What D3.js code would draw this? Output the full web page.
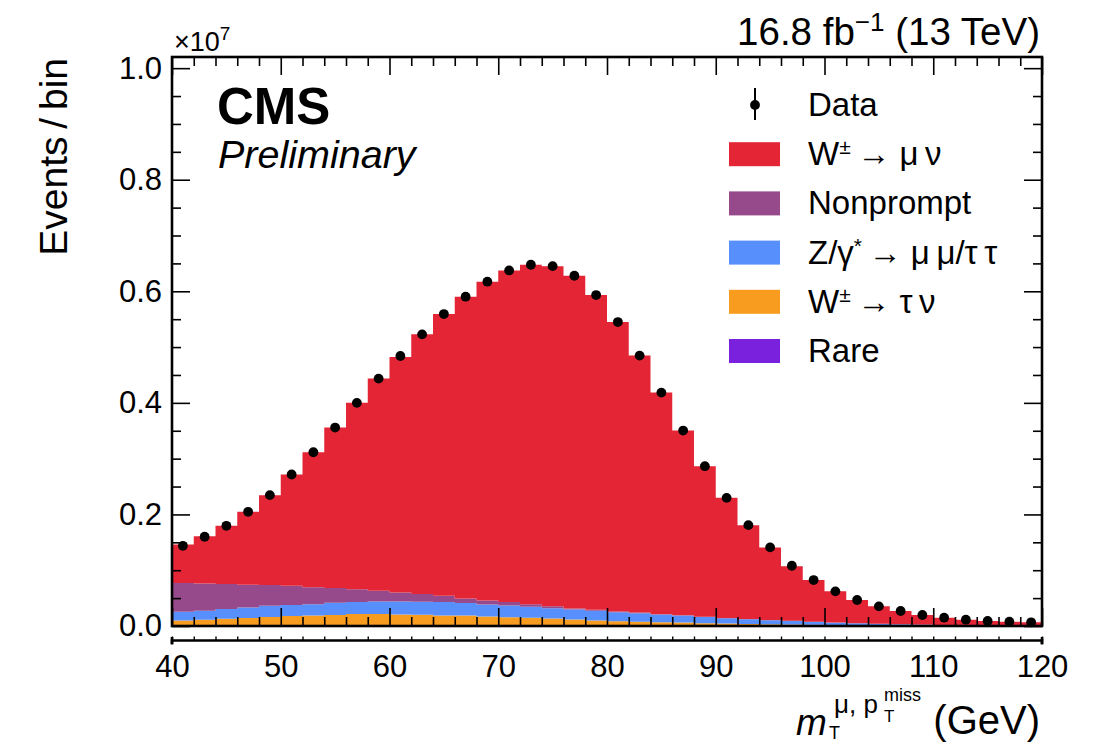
<!DOCTYPE html>
<html>
<head>
<meta charset="utf-8">
<script src="https://cdn.jsdelivr.net/npm/d3@7"></script>
<style>
  body { margin: 0; background: #fff; }
  text { font-family: "Liberation Sans", Arial, Helvetica, sans-serif; fill: #000; }
</style>
</head>
<body>
<svg id="chart" width="1096" height="744"></svg>
<script>
// Transverse mass bins (GeV), 2 GeV wide, centres
const binCenters = [41,43,45,47,49,51,53,55,57,59,61,63,65,67,69,71,73,75,77,79,
                    81,83,85,87,89,91,93,95,97,99,101,103,105,107,109,111,113,115,117,119];
const binWidth = 2;

// Yields per bin, in units of 10^7 events
const dataYield = [0.1438,0.1600,0.1796,0.2047,0.2346,0.2716,0.3115,0.3557,0.4000,0.4435,
                   0.4840,0.5228,0.5592,0.5903,0.6172,0.6374,0.6476,0.6451,0.6279,0.5932,
                   0.5449,0.4847,0.4184,0.3503,0.2865,0.2297,0.1808,0.1409,0.1080,0.0824,
                   0.0621,0.0466,0.0352,0.0269,0.0197,0.0149,0.0113,0.0090,0.0077,0.0066];

const wMuNu     = [0.0691,0.0849,0.1045,0.1309,0.1613,0.1995,0.2419,0.2878,0.3339,0.3804,
                   0.4220,0.4656,0.5051,0.5408,0.5714,0.5946,0.6085,0.6095,0.5966,0.5642,
                   0.5190,0.4607,0.3973,0.3312,0.2697,0.2154,0.1683,0.1303,0.0978,0.0749,
                   0.0560,0.0416,0.0312,0.0237,0.0172,0.0130,0.0098,0.0078,0.0068,0.0058];
const nonprompt = [0.0514,0.0489,0.0448,0.0406,0.0371,0.0346,0.0304,0.0263,0.0233,0.0192,
                   0.0161,0.0138,0.0113,0.0081,0.0072,0.0061,0.0048,0.0036,0.0018,0.0018,
                   0.0011,0.0010,0.0007,0.0005,0.0005,0.0003,0.0003,0.0002,0.0002,0.0002,
                   0.0001,0.0001,0.0001,0.0001,0.0001,0.0000,0.0000,0.0000,0.0000,0.0000];
const zGamma    = [0.0156,0.0161,0.0174,0.0190,0.0202,0.0197,0.0204,0.0220,0.0215,0.0226,
                   0.0233,0.0233,0.0240,0.0227,0.0215,0.0208,0.0197,0.0186,0.0179,0.0174,
                   0.0161,0.0156,0.0136,0.0125,0.0113,0.0097,0.0084,0.0072,0.0064,0.0052,
                   0.0043,0.0035,0.0028,0.0022,0.0017,0.0013,0.0010,0.0008,0.0006,0.0005];
const wTauNu    = [0.0095,0.0107,0.0125,0.0138,0.0156,0.0174,0.0184,0.0192,0.0209,0.0209,
                   0.0202,0.0197,0.0184,0.0183,0.0167,0.0156,0.0143,0.0131,0.0113,0.0095,
                   0.0084,0.0072,0.0066,0.0059,0.0048,0.0041,0.0036,0.0030,0.0025,0.0020,
                   0.0016,0.0013,0.0010,0.0008,0.0006,0.0005,0.0004,0.0003,0.0002,0.0002];
const rare      = [0.0004,0.0004,0.0004,0.0004,0.0004,0.0004,0.0004,0.0004,0.0004,0.0004,
                   0.0004,0.0004,0.0004,0.0004,0.0004,0.0003,0.0003,0.0003,0.0003,0.0003,
                   0.0003,0.0002,0.0002,0.0002,0.0002,0.0002,0.0002,0.0002,0.0001,0.0001,
                   0.0001,0.0001,0.0001,0.0001,0.0001,0.0001,0.0001,0.0001,0.0001,0.0001];

// Stack order, bottom to top
const processKeys   = ["rare","wTauNu","zGamma","nonprompt","wMuNu"];
const processSeries = { rare, wTauNu, zGamma, nonprompt, wMuNu };
const processColors = { wMuNu:"#e42536", nonprompt:"#964a8b", zGamma:"#5790fc", wTauNu:"#f89c20", rare:"#7a21dd" };

const xTickLabels = ["40","50","60","70","80","90","100","110","120"];
const yTickLabels = ["0.0","0.2","0.4","0.6","0.8","1.0"];

const legendEntries = [
  { key: "data",      parts: [["Data"]] },
  { key: "wMuNu",     parts: [["W"],["\u00b1","sup"],["\u2009\u2192 \u03bc\u2009\u03bd"]] },
  { key: "nonprompt", parts: [["Nonprompt"]] },
  { key: "zGamma",    parts: [["Z/\u03b3"],["*","sup"],["\u2009\u2192 \u03bc\u2009\u03bc/\u03c4\u2009\u03c4"]] },
  { key: "wTauNu",    parts: [["W"],["\u00b1","sup"],["\u2009\u2192 \u03c4\u2009\u03bd"]] },
  { key: "rare",      parts: [["Rare"]] }
];

const svg = d3.select("#chart");
const plot = { left: 172, right: 1042, top: 57, bottom: 626 };

const x = d3.scaleLinear().domain([40, 120]).range([plot.left, plot.right]);
const y = d3.scaleLinear().domain([0, 1.02]).range([plot.bottom, plot.top]);

// Stacked step histograms
const rows = binCenters.map((c, i) => {
  const r = { lo: c - binWidth / 2, hi: c + binWidth / 2 };
  processKeys.forEach(k => r[k] = processSeries[k][i]);
  return r;
});
const stacked = d3.stack().keys(processKeys)(rows);

const gHist = svg.append("g");
stacked.forEach(layer => {
  const pts = layer.map(d => ({ x: d.data.lo, y0: d[0], y1: d[1] }));
  const last = layer[layer.length - 1];
  pts.push({ x: last.data.hi, y0: last[0], y1: last[1] });
  const area = d3.area()
    .x(d => x(d.x)).y0(d => y(d.y0)).y1(d => y(d.y1))
    .curve(d3.curveStepAfter);
  gHist.append("path")
    .attr("d", area(pts))
    .attr("fill", processColors[layer.key]);
});

// Data points with statistical error bars
const gData = svg.append("g");
binCenters.forEach((c, i) => {
  const v = dataYield[i];
  const err = Math.sqrt(v * 1e7) / 1e7;
  gData.append("line")
    .attr("x1", x(c)).attr("x2", x(c))
    .attr("y1", y(v - err)).attr("y2", y(v + err))
    .attr("stroke", "#000").attr("stroke-width", 2);
  gData.append("circle")
    .attr("cx", x(c)).attr("cy", y(v)).attr("r", 4.9).attr("fill", "#000");
});

// Inward-pointing ticks on all four sides of the frame
const majorX = xTickLabels.map(Number);
const minorX = binCenters.map(c => c - 1).concat([120]).filter(v => !majorX.includes(v));
const majorY = yTickLabels.map(Number);
const minorY = d3.range(0, 1.0001, 0.05).map(v => +v.toFixed(2)).filter(v => !majorY.some(m => Math.abs(m - v) < 1e-6));

function tickAxis(axisFn, scale, values, size, translate) {
  const g = svg.append("g").attr("transform", translate)
    .call(axisFn(scale).tickValues(values).tickSize(size).tickFormat(""));
  g.select(".domain").remove();
  g.selectAll(".tick line").attr("stroke", "#000").attr("stroke-width", 1.6);
  return g;
}
// bottom and top
tickAxis(d3.axisBottom, x, majorX, -18, `translate(0,${plot.bottom})`);
tickAxis(d3.axisBottom, x, minorX, -9,  `translate(0,${plot.bottom})`);
tickAxis(d3.axisTop,    x, majorX, -18, `translate(0,${plot.top})`);
tickAxis(d3.axisTop,    x, minorX, -9,  `translate(0,${plot.top})`);
// right
tickAxis(d3.axisRight,  y, majorY, -18, `translate(${plot.right},0)`);
tickAxis(d3.axisRight,  y, minorY, -9,  `translate(${plot.right},0)`);
// left, with labels
const gy = svg.append("g").attr("transform", `translate(${plot.left},0)`)
  .call(d3.axisLeft(y).tickValues(majorY).tickSize(-18).tickPadding(10)
        .tickFormat((d, i) => yTickLabels[i]));
gy.select(".domain").remove();
gy.selectAll(".tick line").attr("stroke", "#000").attr("stroke-width", 1.6);
gy.selectAll(".tick text").style("font-size", "31px").attr("fill", "#000");
tickAxis(d3.axisLeft, y, minorY, -9, `translate(${plot.left},0)`);

// Frame
svg.append("rect")
  .attr("x", plot.left).attr("y", plot.top)
  .attr("width", plot.right - plot.left).attr("height", plot.bottom - plot.top)
  .attr("fill", "none").attr("stroke", "#000").attr("stroke-width", 2.6);

// Separate x axis line with labels underneath
const xAxisY = 640.5;
const gx = svg.append("g").attr("transform", `translate(0,${xAxisY})`)
  .call(d3.axisBottom(x).tickValues(majorX.concat(minorX)).tickSize(-4).tickPadding(14)
        .tickFormat(d => { const i = majorX.indexOf(d); return i >= 0 ? xTickLabels[i] : ""; }));
gx.select(".domain").attr("d", `M${plot.left},4V0H${plot.right}V4`)
  .attr("stroke", "#000").attr("stroke-width", 2.6).attr("fill", "none");
gx.selectAll(".tick line").attr("stroke", "#000").attr("stroke-width", 1.4);
gx.selectAll(".tick text").style("font-size", "31px").attr("fill", "#000");
svg.append("line").attr("x1", plot.left).attr("x2", plot.left)
  .attr("y1", xAxisY - 3.5).attr("y2", xAxisY + 3.5).attr("stroke", "#000").attr("stroke-width", 2.6);
svg.append("line").attr("x1", plot.right).attr("x2", plot.right)
  .attr("y1", xAxisY - 3.5).attr("y2", xAxisY + 3.5).attr("stroke", "#000").attr("stroke-width", 2.6);

// Axis titles
svg.append("text")
  .attr("transform", `translate(67,58) rotate(-90)`)
  .attr("text-anchor", "end")
  .style("font-size", "39px")
  .text("Events\u2009/\u2009bin");

// m_T^{mu, pT^miss} (GeV), placed piece by piece
const xtBase = 735;
svg.append("text").attr("x", 796).attr("y", xtBase)
  .style("font-size", "37px").style("font-style", "italic").text("m");
svg.append("text").attr("x", 829).attr("y", 739)
  .style("font-size", "18px").text("T");
svg.append("text").attr("x", 834).attr("y", 713)
  .style("font-size", "26px").text("\u03bc, p");
svg.append("text").attr("x", 884).attr("y", 722)
  .style("font-size", "17px").text("T");
svg.append("text").attr("x", 884).attr("y", 701)
  .style("font-size", "18px").text("miss");
svg.append("text").attr("x", 1040).attr("y", 734)
  .attr("text-anchor", "end").style("font-size", "40px").text("(GeV)");

// Scale factor, luminosity label
const sf = svg.append("text").attr("x", 174).attr("y", 51).style("font-size", "27px");
sf.append("tspan").text("\u00d710");
sf.append("tspan").attr("dy", -11).style("font-size", "19px").text("7");

const lumi = svg.append("text").attr("x", 1040).attr("y", 45).attr("text-anchor", "end").style("font-size", "38.5px");
lumi.append("tspan").text("16.8 fb");
lumi.append("tspan").attr("dy", -14).style("font-size", "26px").text("\u22121");
lumi.append("tspan").attr("dy", 14).text(" (13 TeV)");

// Experiment label
svg.append("text").attr("x", 217).attr("y", 124)
  .style("font-size", "51px").style("font-weight", "bold").text("CMS");
svg.append("text").attr("x", 218).attr("y", 168)
  .style("font-size", "39.5px").style("font-style", "italic").text("Preliminary");

// Legend
const legend = svg.append("g");
legendEntries.forEach((e, i) => {
  const cy = 105 + i * 49.2;
  if (e.key === "data") {
    legend.append("line").attr("x1", 755).attr("x2", 755).attr("y1", cy - 17).attr("y2", cy + 15)
      .attr("stroke", "#000").attr("stroke-width", 2);
    legend.append("circle").attr("cx", 755).attr("cy", cy).attr("r", 4.9).attr("fill", "#000");
  } else {
    legend.append("rect").attr("x", 729).attr("y", cy - 12).attr("width", 51).attr("height", 24)
      .attr("fill", processColors[e.key]);
  }
  const t = legend.append("text").attr("x", 808).attr("y", cy + 11).style("font-size", "33px");
  let shift = 0;
  e.parts.forEach(([s, kind]) => {
    const ts = t.append("tspan").text(s);
    if (kind === "sup") {
      ts.attr("dy", -11 - shift).style("font-size", "21px");
      shift = -11;
    } else {
      ts.attr("dy", -shift);
      shift = 0;
    }
  });
});
</script>
</body>
</html>
